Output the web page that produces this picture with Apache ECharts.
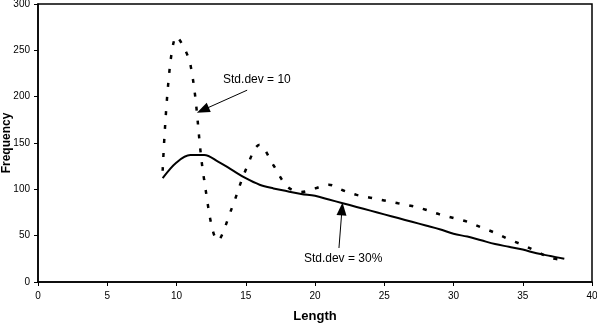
<!DOCTYPE html>
<html><head><meta charset="utf-8">
<script src="https://cdn.jsdelivr.net/npm/echarts@6/dist/echarts.min.js"></script>
<style>html,body{margin:0;padding:0;background:#fff}#c{width:597px;height:324px}</style>
</head><body><div id="c"></div>
<script>
var lengths = [9,10,11,12,13,14,15,16,17,18,19,20,21,22,23,24,25,26,27,28,29,30,31,32,33,34,35,36,37,38];
var sd10 = [120,265,235,110,45,80,121,148,126,103,97,101,105,99,94,91,88,85,82,78,73,69,65,59,53,46,40,33,26,24];
var sd30 = [112,129,137,137,130,121,112,105,101,98,95,93,89,85,81,77,73,69,65,61,57,52,49,45,41,38,35,31,28,25];
var xTicks = [0,5,10,15,20,25,30,35,40];
var yTicks = [0,50,100,150,200,250,300];
var notes = [
  {text:'Std.dev = 10', at:[13.36,218], from:[15.1,207], to:[11.9,185.6]},
  {text:'Std.dev = 30%', at:[19.2,24.8], from:[21.73,36.7], to:[21.95,78.8]}
];

var chart = echarts.init(document.getElementById('c'));
var font = 'Liberation Sans, Arial, sans-serif';
function pairs(v){ return lengths.map(function(x,i){return [x,v[i]];}); }
var option = {
  animation:false,
  grid:{left:38,right:5,top:4,bottom:42,containLabel:false,outerBoundsMode:'none',show:true,borderColor:'#000',borderWidth:1.5},
  xAxis:{type:'value',min:0,max:40,interval:5,name:'Length',nameLocation:'middle',nameGap:28,nameMoveOverlap:false,
    nameTextStyle:{fontFamily:font,fontWeight:'bold',fontSize:13,color:'#000'},
    axisLine:{lineStyle:{color:'#000',width:1.5}},
    axisTick:{show:true,length:4,lineStyle:{color:'#000'}},
    axisLabel:{fontFamily:font,fontSize:10,color:'#000',margin:9},
    splitLine:{show:false}},
  yAxis:{type:'value',min:0,max:300,interval:50,name:'Frequency',nameLocation:'middle',nameGap:25,nameMoveOverlap:false,
    nameTextStyle:{fontFamily:font,fontWeight:'bold',fontSize:12,color:'#000'},
    axisLine:{show:true,lineStyle:{color:'#000',width:1.5}},
    axisTick:{show:true,length:4,lineStyle:{color:'#000'}},
    axisLabel:{fontFamily:font,fontSize:10,color:'#000',margin:8},
    splitLine:{show:false}},
  series:[
    {type:'line',data:pairs(sd10),smooth:0.35,showSymbol:false,
     lineStyle:{color:'#000',width:2.5,type:[4,10]},
     markLine:{silent:true,symbol:['none','triangle'],symbolSize:[10,13],label:{show:false},
       lineStyle:{color:'#000',width:1,type:'solid'},
       data:notes.map(function(n){return [{coord:n.from},{coord:n.to}];})}},
    {type:'line',data:pairs(sd30),smooth:0.35,showSymbol:false,
     lineStyle:{color:'#000',width:2,type:'solid'}}
  ]
};
chart.setOption(option);
chart.setOption({graphic:notes.map(function(n){
  var p = chart.convertToPixel({gridIndex:0}, n.at);
  return {type:'text',x:p[0],y:p[1],style:{text:n.text,fontFamily:font,fontSize:12,fill:'#000',verticalAlign:'middle'}};
})});
</script></body></html>
